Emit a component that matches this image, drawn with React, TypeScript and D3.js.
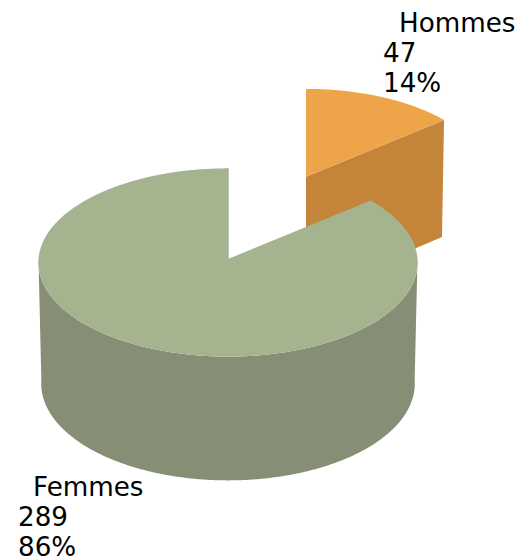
import React from "react";
import * as d3 from "d3";

const categories = ["Hommes", "Femmes"];
const counts = [47, 289];
const topColors = ["#eea549", "#a5b38f"];
const wallColors = ["#c4843a", "#868f76"];
const edgeColor = "#7c856d";
const labelPositions = [
  { x: [399, 383, 383], y: [32, 62, 92] },
  { x: [33, 18, 18], y: [496, 526, 556] },
];

const W = 519;
const H = 557;
const CX = 228;
const CY = 259;
const RX = 189.5;
const RY = 94;
const K = 0.037;
const DEPTH = 121;
const DEPTH_EXP = 0.6;
const BOTTOM_SHRINK = 0.985;
const EXPLODE = [1, 0];

const total = d3.sum(counts);
const pct = d3.format(".0%");
const pie = d3.pie<number>().sort(null).startAngle(0).endAngle(2 * Math.PI);
const arcs = pie(counts);

type Pt = [number, number];
const lineGen = d3.line<Pt>().curve(d3.curveLinear);

function project(a: number, radius: number, u0: number, v0: number, bottom: boolean): Pt {
  const u = radius * Math.sin(a);
  const v = radius * Math.cos(a);
  const s0 = 1 / (1 + K * v0);
  const ax = CX + RX * u0 * s0;
  const ay = CY - RY * v0 * s0;
  const s = 1 / (1 + K * (v + v0));
  const shrink = bottom ? BOTTOM_SHRINK : 1;
  return [
    ax + RX * u * s * shrink,
    ay - RY * v * s + (bottom ? DEPTH * Math.pow(s, DEPTH_EXP) : 0),
  ];
}

function sampleAngles(a0: number, a1: number): number[] {
  const n = Math.max(2, Math.ceil(Math.abs(a1 - a0) / 0.01));
  return d3.range(n + 1).map((i) => a0 + ((a1 - a0) * i) / n);
}

export default function App() {
  const slices = arcs.map((d, i) => {
    const mid = (d.startAngle + d.endAngle) / 2;
    const u0 = EXPLODE[i] * Math.sin(mid);
    const v0 = EXPLODE[i] * Math.cos(mid);
    const apex = project(0, 0, u0, v0, false);
    const apexB = project(0, 0, u0, v0, true);
    const top: Pt[] = [
      apex,
      ...sampleAngles(d.startAngle, d.endAngle).map((a) => project(a, 1, u0, v0, false)),
    ];
    const wa0 = Math.max(d.startAngle, Math.PI / 2);
    const wa1 = Math.min(d.endAngle, (3 * Math.PI) / 2);
    const wall: Pt[] =
      wa1 > wa0
        ? [
            ...sampleAngles(wa0, wa1).map((a) => project(a, 1, u0, v0, false)),
            ...sampleAngles(wa1, wa0).map((a) => project(a, 1, u0, v0, true)),
          ]
        : [];
    const endTop = project(d.endAngle, 1, u0, v0, false);
    const endBot = project(d.endAngle, 1, u0, v0, true);
    const faceEnd: Pt[] = [apex, endTop, endBot, apexB];
    return { i, top, wall, faceEnd };
  });

  const hommes = slices[0];
  const femmes = slices[1];

  return (
    <svg
      width={W}
      height={H}
      viewBox={`0 0 ${W} ${H}`}
      style={{ position: "absolute", left: 0, top: 0, background: "#fff" }}
    >
      <g>
        <path d={lineGen(hommes.faceEnd) + "Z"} fill={wallColors[0]} />
        <path d={lineGen(hommes.top) + "Z"} fill={topColors[0]} />
      </g>
      <g>
        <path d={lineGen(femmes.wall) + "Z"} fill={wallColors[1]} />
        <path
          d={lineGen([femmes.top[0], femmes.top[femmes.top.length - 1]])!}
          stroke={edgeColor}
          strokeWidth={1}
          fill="none"
        />
        <path d={lineGen(femmes.top) + "Z"} fill={topColors[1]} />
      </g>
      <g fontFamily="'DejaVu Sans'" fontSize={26.2} fill="#000">
        {categories.map((c, i) => {
          const lines = [c, String(counts[i]), pct(counts[i] / total)];
          return lines.map((t, j) => (
            <text key={`${i}-${j}`} x={labelPositions[i].x[j]} y={labelPositions[i].y[j]}>
              {t}
            </text>
          ));
        })}
      </g>
    </svg>
  );
}
